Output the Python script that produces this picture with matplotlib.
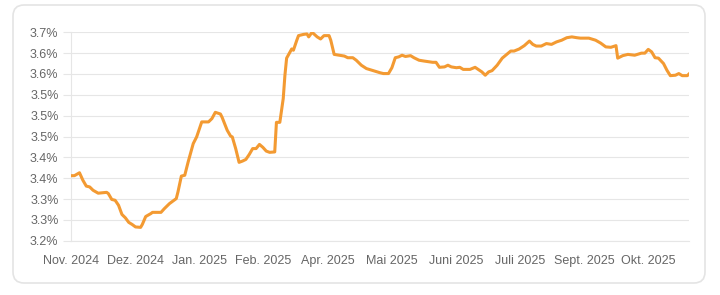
#!/usr/bin/env python3
"""Yield line chart, Nov. 2024 - Okt. 2025, rendered in a rounded card."""
import matplotlib
matplotlib.use("Agg")
import matplotlib.pyplot as plt
import numpy as np
from matplotlib.patches import FancyBboxPatch
from matplotlib.transforms import IdentityTransform

plt.rcParams["font.family"] = ["Liberation Sans", "DejaVu Sans"]

# days since 1 Nov 2024
DAYS = [0, 2, 5, 7, 9, 11, 13, 16, 21, 22, 24, 26, 28, 30, 32, 34, 36, 38, 41, 42,
        44, 47, 48, 53, 55, 58, 62, 63, 65, 67, 69, 72, 74, 77, 81, 83, 85, 88, 89, 92,
        94, 95, 97, 99, 101, 103, 105, 107, 109, 111, 113, 115, 117, 120, 121, 123, 125, 126, 127, 129,
        130, 131, 133, 134, 137, 139, 140, 142, 145, 147, 149, 152, 153, 155, 158, 161, 163, 166, 168, 171,
        174, 178, 182, 184, 187, 189, 191, 193, 195, 197, 200, 202, 205, 208, 213, 215, 217, 220, 222, 224,
        227, 229, 231, 235, 238, 242, 244, 246, 248, 251, 254, 257, 259, 261, 264, 267, 270, 272, 274, 277,
        280, 283, 286, 289, 292, 295, 298, 300, 305, 309, 312, 315, 318, 321, 322, 325, 328, 332, 336, 338,
        340, 342, 344, 346, 349, 351, 353, 356, 358, 360, 363, 364]
YIELD = [3.356, 3.356, 3.363, 3.345, 3.331, 3.329, 3.321, 3.314, 3.316, 3.313, 3.299, 3.297, 3.285, 3.263, 3.255, 3.244, 3.239, 3.233, 3.232, 3.239,
         3.258, 3.265, 3.268, 3.268, 3.277, 3.289, 3.301, 3.317, 3.355, 3.357, 3.389, 3.433, 3.449, 3.485, 3.485, 3.493, 3.508, 3.504, 3.496, 3.465,
         3.451, 3.449, 3.421, 3.388, 3.391, 3.395, 3.407, 3.421, 3.421, 3.431, 3.424, 3.415, 3.412, 3.413, 3.484, 3.484, 3.541, 3.597, 3.638, 3.653,
         3.660, 3.657, 3.681, 3.692, 3.695, 3.696, 3.689, 3.700, 3.689, 3.684, 3.692, 3.692, 3.681, 3.647, 3.645, 3.643, 3.639, 3.639, 3.633, 3.621,
         3.613, 3.608, 3.603, 3.601, 3.601, 3.615, 3.639, 3.641, 3.645, 3.642, 3.644, 3.639, 3.633, 3.631, 3.628, 3.628, 3.616, 3.617, 3.621, 3.617,
         3.615, 3.616, 3.611, 3.611, 3.616, 3.605, 3.597, 3.605, 3.608, 3.621, 3.638, 3.648, 3.655, 3.655, 3.660, 3.668, 3.679, 3.671, 3.667, 3.667,
         3.673, 3.671, 3.677, 3.681, 3.687, 3.689, 3.687, 3.686, 3.686, 3.681, 3.674, 3.665, 3.664, 3.668, 3.638, 3.644, 3.647, 3.645, 3.650, 3.650,
         3.659, 3.653, 3.639, 3.638, 3.625, 3.609, 3.596, 3.597, 3.601, 3.596, 3.596, 3.600]

X_LABELS = ["Nov. 2024", "Dez. 2024", "Jan. 2025", "Feb. 2025", "Apr. 2025",
            "Mai 2025", "Juni 2025", "Juli 2025", "Sept. 2025", "Okt. 2025"]
Y_TICKS = [3.20, 3.25, 3.30, 3.35, 3.40, 3.45, 3.50, 3.55, 3.60, 3.65, 3.70]
Y_LABELS = ["3.2%", "3.3%", "3.3%", "3.4%", "3.4%", "3.5%", "3.5%", "3.5%", "3.6%", "3.6%", "3.7%"]

LINE = "#f39a32"
GRID = "#e6e6e6"
TEXT = "#666666"

W, H = 720, 295
fig = plt.figure(figsize=(W / 100, H / 100), dpi=100)
fig.patch.set_facecolor("white")

# card with rounded corners (pixel coords), drawn behind the axes
card = FancyBboxPatch((13, 12), 692, 278, boxstyle="round,pad=0,rounding_size=11",
                      transform=IdentityTransform(), facecolor="white",
                      edgecolor="#e4e4e4", lw=1.2, zorder=-5)
fig.patches.append(card)

ax = fig.add_axes([71 / W, 1 - 240.7 / H, (689 - 71) / W, (240.7 - 32.3) / H], zorder=2)
ax.set_facecolor("none")
ax.plot(DAYS, YIELD, color=LINE, lw=2.2, solid_joinstyle="round", zorder=3)

ax.set_xlim(0, 364)
ax.set_ylim(3.20, 3.70)
ax.set_yticks(Y_TICKS)
ax.set_yticklabels(Y_LABELS)
ax.set_xticks(np.arange(len(X_LABELS)) * 37.8)
ax.set_xticklabels(X_LABELS)

ax.grid(axis="y", color=GRID, lw=0.8)
ax.tick_params(axis="y", length=6, width=0.8, color=GRID, pad=3, labelsize=9, labelcolor=TEXT)
ax.tick_params(axis="x", length=0, pad=10, labelsize=9, labelcolor=TEXT)
for side in ("top", "right"):
    ax.spines[side].set_visible(False)
for side in ("left", "bottom"):
    ax.spines[side].set_color(GRID)
    ax.spines[side].set_linewidth(0.8)

fig.savefig("out.png", dpi=100)
